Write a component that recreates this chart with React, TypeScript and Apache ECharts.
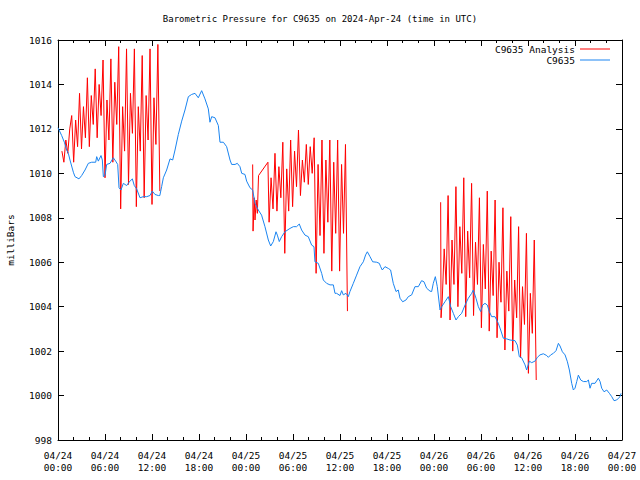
import { useEffect, useRef } from 'react';
import * as echarts from 'echarts';

const chartTitle = 'Barometric Pressure for C9635 on 2024-Apr-24 (time in UTC)';
const yAxisTitle = 'milliBars';
const analysisName = 'C9635 Analysis';
const stationName = 'C9635';

const xTickDates = ['04/24', '04/24', '04/24', '04/24', '04/25', '04/25', '04/25', '04/25', '04/26', '04/26', '04/26', '04/26', '04/27'];
const xTickTimes = ['00:00', '06:00', '12:00', '18:00', '00:00', '06:00', '12:00', '18:00', '00:00', '06:00', '12:00', '18:00', '00:00'];

// station observations: hours since 04/24 00:00 UTC and pressure (mb)
const stationHours = [
  0.0, 0.47, 0.81, 1.11, 1.32, 1.53, 1.96, 2.17, 2.68, 3.02, 3.45, 3.87, 4.3, 4.81, 4.94, 5.15, 5.49, 5.66, 5.79, 6.0,
  6.21, 6.64, 7.06, 7.36, 7.62, 7.79, 8.04, 8.34, 8.77, 9.06, 9.49, 9.74, 10.04, 10.47, 10.89, 11.32, 11.74, 12.04, 12.38, 12.81,
  13.0, 13.23, 13.45, 13.87, 14.3, 14.64, 14.94, 15.36, 15.79, 16.21, 16.64, 17.06, 17.49, 17.91, 18.34, 18.76, 19.19, 19.4, 19.62, 20.04,
  20.47, 20.68, 21.11, 21.53, 21.96, 22.17, 22.6, 22.89, 23.23, 23.45, 23.87, 24.08, 24.51, 24.85, 25.15, 25.57, 25.99, 26.42, 26.85, 27.15,
  27.49, 27.83, 28.0, 28.25, 28.55, 28.97, 29.61, 30.04, 30.46, 30.8, 31.1, 31.53, 31.95, 32.38, 32.68, 32.8, 33.23, 33.66, 33.87, 34.29,
  34.72, 35.15, 35.36, 35.57, 36.0, 36.21, 36.42, 36.76, 37.06, 37.27, 37.7, 38.12, 38.55, 38.98, 39.27, 39.49, 39.83, 40.17, 40.68, 41.02,
  41.19, 41.4, 41.74, 42.17, 42.46, 42.8, 43.15, 43.44, 43.66, 44.0, 44.42, 44.72, 45.15, 45.57, 46.0, 46.42, 46.72, 47.06, 47.49, 47.7,
  47.91, 48.17, 48.42, 48.77, 48.98, 49.4, 49.83, 50.13, 50.47, 50.81, 51.11, 51.53, 51.96, 52.38, 52.81, 53.02, 53.36, 53.66, 53.96, 54.21,
  54.51, 54.81, 55.06, 55.36, 55.79, 56.21, 56.51, 56.85, 57.28, 57.7, 58.34, 58.64, 58.89, 59.19, 59.62, 59.83, 60.17, 60.47, 60.89, 61.2,
  61.53, 61.96, 62.39, 62.6, 62.9, 63.24, 63.58, 63.88, 64.09, 64.39, 64.73, 65.03, 65.28, 65.58, 65.79, 66.0, 66.22, 66.43, 66.73, 67.07,
  67.49, 67.71, 67.92, 68.13, 68.56, 68.98, 69.2, 69.41, 69.71, 70.05, 70.39, 70.69, 70.98, 71.32, 71.54, 71.75, 71.88,
];
const stationValues = [
  1012.05, 1011.7, 1011.4, 1011.05, 1010.9, 1010.6, 1010.05, 1009.85, 1009.75, 1009.9, 1010.15, 1010.45, 1010.5, 1010.5, 1010.75, 1010.55, 1010.8, 1010.6, 1009.85, 1009.9,
  1010.4, 1010.45, 1010.7, 1010.55, 1010.4, 1009.35, 1009.25, 1009.55, 1009.45, 1009.6, 1009.75, 1009.45, 1009.3, 1008.9, 1008.95, 1008.95, 1009.0, 1009.2, 1009.05, 1009.0,
  1009.0, 1009.4, 1009.8, 1010.15, 1010.65, 1010.6, 1011.05, 1011.75, 1012.35, 1012.85, 1013.45, 1013.55, 1013.6, 1013.4, 1013.72, 1013.35, 1012.9, 1012.3, 1012.55, 1012.5,
  1012.15, 1011.4, 1011.4, 1011.2, 1010.6, 1010.4, 1010.4, 1010.45, 1010.3, 1010.0, 1009.95, 1009.65, 1009.35, 1009.25, 1008.65, 1008.35, 1008.12, 1007.6, 1007.0, 1006.73,
  1006.93, 1007.37, 1007.22, 1006.93, 1007.15, 1007.37, 1007.52, 1007.6, 1007.6, 1007.72, 1007.45, 1007.22, 1007.15, 1006.77, 1006.7, 1006.02, 1005.95, 1005.5, 1005.2, 1005.05,
  1004.98, 1004.98, 1004.6, 1004.6, 1004.5, 1004.72, 1004.53, 1004.6, 1004.45, 1004.68, 1005.05, 1005.42, 1005.8, 1006.02, 1006.33, 1006.47, 1006.25, 1006.02, 1006.0, 1005.95,
  1005.8, 1005.65, 1005.8, 1005.72, 1005.65, 1005.05, 1004.68, 1004.75, 1004.38, 1004.22, 1004.3, 1004.45, 1004.53, 1004.9, 1004.9, 1005.17, 1005.12, 1004.83, 1004.7, 1004.68,
  1005.05, 1005.35, 1004.9, 1003.85, 1004.0, 1004.22, 1004.45, 1004.0, 1003.7, 1003.4, 1003.55, 1003.7, 1004.07, 1004.38, 1004.6, 1004.75, 1004.38, 1004.0, 1003.78, 1004.07,
  1004.15, 1004.07, 1003.78, 1003.55, 1003.55, 1003.25, 1002.95, 1002.58, 1002.55, 1002.5, 1002.47, 1002.27, 1001.75, 1001.7, 1001.38, 1001.15, 1001.55, 1001.48, 1001.55, 1001.72,
  1001.83, 1001.88, 1001.8, 1001.72, 1001.83, 1001.9, 1002.02, 1002.35, 1002.23, 1001.97, 1001.83, 1001.52, 1001.15, 1000.55, 1000.25, 1000.33, 1000.63, 1000.92, 1000.7, 1000.63,
  1000.63, 1000.7, 1000.33, 1000.55, 1000.55, 1000.78, 1000.63, 1000.33, 1000.17, 1000.25, 1000.1, 999.95, 999.77, 999.8, 999.88, 999.95, 1000.1,
];

// analysis values, one every quarter hour within each run
const analysisStep = 0.25;
const analysisRun1Start = 0.5;
const analysisRun1 = [
  1011.0, 1010.5, 1011.5, 1010.9, 1012.0, 1012.6,
  1010.5, 1012.4, 1011.2, 1013.6,
  1011.1, 1013.0, 1011.6, 1014.3,
  1011.2, 1013.5, 1012.2, 1014.7,
  1011.6, 1014.0, 1012.6, 1015.1,
  1009.8, 1013.3, 1011.5, 1015.15,
  1010.5, 1014.1, 1012.2, 1015.7,
  1008.4, 1013.0, 1011.0, 1015.6,
  1009.5, 1013.6, 1011.8, 1015.6,
  1008.5, 1013.0, 1011.0, 1015.3,
  1008.9, 1013.5, 1011.5, 1015.6,
  1008.6, 1013.4, 1011.3, 1015.8,
  1009.2,
];
const analysisRun2Lead = [
  [24.85, 1010.4], [24.9, 1007.4], [25.05, 1008.9], [25.15, 1007.9], [25.3, 1008.8], [25.45, 1008.2], [25.6, 1009.9], [26.8, 1010.5],
];
const analysisRun2Start = 26.95;
const analysisRun2 = [
  1007.8, 1009.8, 1008.4, 1010.9,
  1008.3, 1010.3, 1008.9, 1011.4,
  1006.4, 1010.2, 1008.3, 1011.5,
  1008.5, 1011.0, 1009.4, 1011.95,
  1009.0, 1010.6, 1009.6, 1011.3,
  1009.5, 1011.2, 1010.0, 1011.6,
  1005.5, 1010.4, 1007.2, 1011.5,
  1006.4, 1010.6, 1007.8, 1011.5,
  1005.6, 1010.5, 1007.3, 1011.5,
  1005.6, 1010.4, 1007.3, 1011.3,
  1003.8,
];
const analysisRun3Lead = [[48.85, 1008.7], [48.9, 1003.5]];
const analysisRun3Start = 49.05;
const analysisRun3 = [
  1004.3, 1006.6, 1005.0, 1009.0,
  1003.4, 1007.0, 1005.0, 1009.4,
  1004.0, 1007.6, 1005.5, 1009.8,
  1003.55, 1007.4, 1005.3, 1009.55,
  1003.6, 1006.9, 1005.0, 1008.9,
  1003.05, 1006.8, 1004.8, 1009.2,
  1002.9, 1006.5, 1004.5, 1008.8,
  1002.6, 1006.0, 1004.2, 1008.45,
  1002.05, 1005.6, 1003.8, 1008.05,
  1002.0, 1005.2, 1003.5, 1007.6,
  1001.7, 1004.9, 1003.2, 1007.3,
  1001.0, 1004.6, 1002.8, 1007.0,
  1000.7,
];

const FONT = 'DejaVu Sans Mono';
const FS = 9.5;
const RED = '#ff0000';
const BLUE = '#1a84f0';

function run(start: number, vals: number[]) {
  return vals.map((v, i) => [start + i * analysisStep, v]);
}

export default function App() {
  const ref = useRef<HTMLDivElement>(null);
  useEffect(() => {
    if (!ref.current) return;
    const chart = echarts.init(ref.current, undefined, { renderer: 'svg' });
    const r1 = run(analysisRun1Start, analysisRun1);
    const r2 = run(analysisRun2Start, analysisRun2);
    const r3 = run(analysisRun3Start, analysisRun3);
    const runs = [r1, [...analysisRun2Lead, ...r2], [...analysisRun3Lead, ...r3]];
    const stationData = stationHours.map((h, i) => [h, stationValues[i]]);
    const labelFmt = (v: number) => {
      const i = Math.round(v / 6);
      return `${xTickDates[i]}\n${xTickTimes[i]}`;
    };
    const black = { color: '#000', width: 1 };
    const baseX = {
      type: 'value',
      min: 0,
      max: 72,
      interval: 6,
      axisLine: { show: true, onZero: false, lineStyle: black },
      axisTick: { show: true, inside: true, length: 6, lineStyle: black },
      minorTick: { show: true, splitNumber: 3, length: 3, lineStyle: black },
      splitLine: { show: false },
    };
    const baseY = {
      type: 'value',
      min: 998,
      max: 1016,
      interval: 2,
      axisLine: { show: true, onZero: false, lineStyle: black },
      axisTick: { show: true, inside: true, length: 6, lineStyle: black },
      splitLine: { show: false },
    };
    chart.setOption({
      animation: false,
      backgroundColor: '#ffffff',
      textStyle: { fontFamily: FONT },
      title: {
        text: chartTitle,
        left: 'center',
        top: 14,
        padding: 0,
        textStyle: { fontFamily: FONT, fontSize: 9, fontWeight: 'normal', color: '#000' },
      },
      legend: {
        orient: 'vertical',
        right: 30,
        top: 44,
        padding: 0,
        align: 'right',
        icon: 'rect',
        itemWidth: 30,
        itemHeight: 1,
        itemGap: 1,
        textStyle: { fontFamily: FONT, fontSize: FS, color: '#000' },
        data: [analysisName, stationName],
      },
      grid: { left: 58, top: 40, width: 564, height: 400, containLabel: false },
      xAxis: [
        {
          ...baseX,
          position: 'bottom',
          axisLabel: { formatter: labelFmt, color: '#000', fontFamily: FONT, fontSize: FS, margin: 9, lineHeight: 12 },
        },
        { ...baseX, position: 'top', axisLabel: { show: false } },
      ],
      yAxis: [
        {
          ...baseY,
          position: 'left',
          axisLabel: { formatter: (v: number) => String(v), color: '#000', fontFamily: FONT, fontSize: FS, margin: 6 },
        },
        { ...baseY, position: 'right', axisLabel: { show: false } },
      ],
      graphic: [
        {
          type: 'text',
          x: 10,
          y: 240,
          rotation: Math.PI / 2,
          style: { text: yAxisTitle, fontFamily: FONT, fontSize: FS, fill: '#000', align: 'center', verticalAlign: 'middle' },
        },
      ],
      series: [
        ...runs.map((d) => ({
          name: analysisName,
          type: 'line',
          data: d,
          symbol: 'none',
          lineStyle: { color: RED, width: 1 },
          itemStyle: { color: RED },
          z: 2,
        })),
        {
          name: stationName,
          type: 'line',
          data: stationData,
          symbol: 'none',
          lineStyle: { color: BLUE, width: 1 },
          itemStyle: { color: BLUE },
          z: 3,
        },
      ],
    });
    return () => chart.dispose();
  }, []);
  return <div ref={ref} style={{ position: 'absolute', left: 0, top: 0, width: 640, height: 480 }} />;
}
